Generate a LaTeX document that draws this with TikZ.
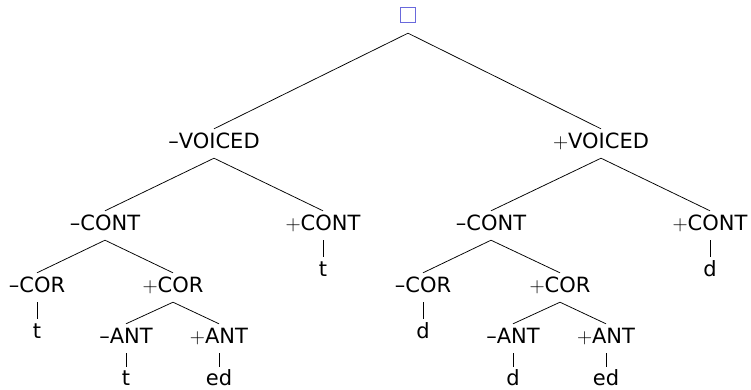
\documentclass[tikz,border=0pt]{standalone}
\usepackage{fix-cm}
\usepackage[no-math]{fontspec}
\setmainfont{DejaVu Sans}
\definecolor{rootblue}{RGB}{105,105,220}
\tikzset{
  feat/.style={anchor=base, inner xsep=0pt, inner ysep=3.5pt, text height=15.5pt, text depth=6.5pt, font=\fontsize{21}{25}\selectfont},
  lowleaf/.style={feat, inner ysep=0pt, text height=17.5pt, text depth=0pt},
  rootbox/.style={draw=rootblue, line width=0.9pt, minimum size=14.5pt, inner sep=0pt},
  branch/.style={line width=0.75pt, black}
}
\begin{document}
\begin{tikzpicture}[x=1pt,y=-1pt]
\useasboundingbox (0,0) rectangle (751,389);
\node[rootbox] (root) at (408,15) {};
\coordinate (rootfoot) at ([yshift=-10.5pt]root.south);
\node[feat] (vm) at (214,148) {–VOICED};
\node[feat] (vp) at (601,148) {$+$VOICED};
\node[feat] (cmL) at (105,230) {–CONT};
\node[feat] (cpL) at (323,230) {$+$CONT};
\node[feat] (cmR) at (491,230) {–CONT};
\node[feat] (cpR) at (710,230) {$+$CONT};
\node[feat] (kmL) at (37,292) {–COR};
\node[feat] (kpL) at (173,292) {$+$COR};
\node[feat] (kmR) at (423,292) {–COR};
\node[feat] (kpR) at (560,292) {$+$COR};
\node[feat] (t1) at (37,338) {t};
\node[feat] (d1) at (423,338) {d};
\node[feat] (t2) at (323,276) {t};
\node[feat] (d2) at (710,276) {d};
\node[feat] (amL) at (126,343) {–ANT};
\node[feat] (apL) at (219,343) {$+$ANT};
\node[feat] (amR) at (513,343) {–ANT};
\node[feat] (apR) at (606,343) {$+$ANT};
\node[lowleaf] (t3) at (126,385) {t};
\node[lowleaf] (e1) at (219,385) {ed};
\node[lowleaf] (d3) at (513,385) {d};
\node[lowleaf] (e2) at (606,385) {ed};
\draw[branch] (rootfoot) -- (vm.north);
\draw[branch] (rootfoot) -- (vp.north);
\draw[branch] (vm.south) -- (cmL.north);
\draw[branch] (vm.south) -- (cpL.north);
\draw[branch] (vp.south) -- (cmR.north);
\draw[branch] (vp.south) -- (cpR.north);
\draw[branch] (cmL.south) -- (kmL.north);
\draw[branch] (cmL.south) -- (kpL.north);
\draw[branch] (cmR.south) -- (kmR.north);
\draw[branch] (cmR.south) -- (kpR.north);
\draw[branch] (cpL.south) -- (t2.north);
\draw[branch] (cpR.south) -- (d2.north);
\draw[branch] (kmL.south) -- (t1.north);
\draw[branch] (kmR.south) -- (d1.north);
\draw[branch] (kpL.south) -- (amL.north);
\draw[branch] (kpL.south) -- (apL.north);
\draw[branch] (kpR.south) -- (amR.north);
\draw[branch] (kpR.south) -- (apR.north);
\draw[branch] (amL.south) -- (t3.north);
\draw[branch] (apL.south) -- (e1.north);
\draw[branch] (amR.south) -- (d3.north);
\draw[branch] (apR.south) -- (e2.north);
\end{tikzpicture}
\end{document}
